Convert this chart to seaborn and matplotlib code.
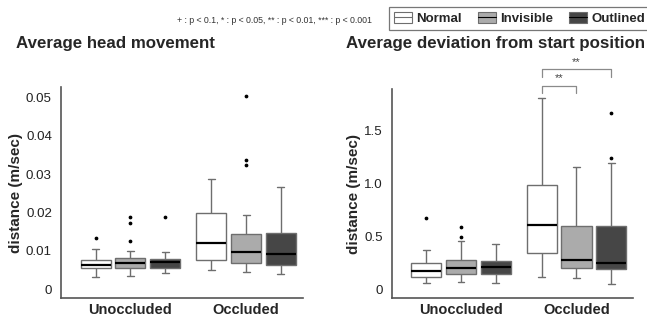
import numpy as np
import pandas as pd
import matplotlib
matplotlib.use("Agg")
import matplotlib.pyplot as plt
import seaborn as sns
from matplotlib.patches import Patch
from matplotlib.lines import Line2D

# boxes are ordered Unoccluded (Normal, Invisible, Outlined), Occluded (Normal, Invisible, Outlined)
conditions = ["Unoccluded", "Occluded"]
markers = ["Normal", "Invisible", "Outlined"]

head_lo = [0.0031, 0.0033, 0.0042, 0.0049, 0.0045, 0.0040]
head_q1 = [0.0054, 0.0056, 0.0056, 0.0077, 0.0067, 0.0064]
head_med = [0.0064, 0.0069, 0.0071, 0.0121, 0.0097, 0.0092]
head_q3 = [0.0077, 0.0080, 0.0079, 0.0199, 0.0144, 0.0146]
head_hi = [0.0105, 0.0099, 0.0097, 0.0287, 0.0193, 0.0267]
head_fliers = [[0.0134], [0.0187, 0.0173, 0.0126], [0.0187], [], [0.0503, 0.0336, 0.0325], []]

dev_lo = [0.054, 0.063, 0.060, 0.111, 0.101, 0.047]
dev_q1 = [0.111, 0.142, 0.139, 0.341, 0.196, 0.187]
dev_med = [0.170, 0.196, 0.211, 0.606, 0.275, 0.249]
dev_q3 = [0.249, 0.275, 0.265, 0.982, 0.600, 0.594]
dev_hi = [0.369, 0.457, 0.423, 1.806, 1.152, 1.196]
dev_fliers = [[0.669], [0.584, 0.495], [], [], [], [1.670, 1.238]]

head_ticks = [0, 0.01, 0.02, 0.03, 0.04, 0.05]
head_ticklabels = ["0", "0.01", "0.02", "0.03", "0.04", "0.05"]
dev_ticks = [0, 0.5, 1.0, 1.5]
dev_ticklabels = ["0", "0.5", "1.0", "1.5"]

palette = {"Normal": "white", "Invisible": "#ababab", "Outlined": "#464646"}
LINE = "#6e6e6e"


def box_frame(lo, q1, med, q3, hi, fliers):
    """Long table whose five-number summary matches the read-off values."""
    rows = []
    i = 0
    for cond in conditions:
        for m in markers:
            vals = list(np.repeat([lo[i], q1[i], med[i], q3[i], hi[i]], 10)) + fliers[i]
            rows += [(cond, m, v) for v in vals]
            i += 1
    return pd.DataFrame(rows, columns=["condition", "marker", "value"])


def draw(ax, df, ticks, ticklabels, ylim, title, title_x):
    sns.boxplot(
        data=df, x="condition", y="value", hue="marker",
        order=conditions, hue_order=markers, palette=palette,
        width=0.9, gap=0.13, whis=1.5, linecolor=LINE, linewidth=1.0,
        medianprops=dict(color="black", linewidth=1.6),
        flierprops=dict(marker="o", markersize=1.7, markerfacecolor="black",
                        markeredgecolor="black"),
        capwidths=0.06, legend=False, ax=ax,
    )
    ax.set_xlim(-0.6, 1.49)
    ax.set_ylim(*ylim)
    ax.set_yticks(ticks)
    ax.set_yticklabels(ticklabels)
    ax.set_xlabel("")
    ax.set_ylabel("distance (m/sec)", fontsize=11, fontweight="bold", labelpad=2)
    ax.tick_params(axis="y", labelsize=9.6, colors="#222222", length=3, width=0.8)
    ax.tick_params(axis="x", labelsize=10.5, length=2.5, width=0.8, pad=1,
                   color="#555555")
    for lab in ax.get_xticklabels():
        lab.set_fontweight("bold")
    sns.despine(ax=ax)
    for s in ("left", "bottom"):
        ax.spines[s].set_color("#555555")
        ax.spines[s].set_linewidth(1.2)
    ax.figure.text(title_x, 0.865, title, fontsize=12.2, fontweight="bold", va="center")


sns.set_style("white")
plt.rcParams["font.family"] = ["Liberation Sans", "DejaVu Sans"]

fig = plt.figure(figsize=(6.47, 3.2), dpi=100)
ax1 = fig.add_axes([0.0943, 0.0678, 0.3736, 0.661])
ax2 = fig.add_axes([0.6054, 0.0678, 0.373, 0.653])

draw(ax1, box_frame(head_lo, head_q1, head_med, head_q3, head_hi, head_fliers),
     head_ticks, head_ticklabels, (-0.0024, 0.0528), "Average head movement", 0.024)
draw(ax2, box_frame(dev_lo, dev_q1, dev_med, dev_q3, dev_hi, dev_fliers),
     dev_ticks, dev_ticklabels, (-0.088, 1.89), "Average deviation from start position", 0.535)

# significance brackets (Occluded: Normal vs Invisible, Normal vs Outlined)
for x1, x2, y, tip in [(0.7, 1.0, 1.925, 0.072), (0.7, 1.3, 2.083, 0.072)]:
    ax2.plot([x1, x1, x2, x2], [y - tip, y, y, y - tip], color="#8a8a8a", lw=0.9,
             clip_on=False)
    ax2.text((x1 + x2) / 2, y + 0.02, "**", ha="center", va="bottom", fontsize=8,
             color="#444444", clip_on=False)

fig.text(0.273, 0.935, "+ : p < 0.1, * : p < 0.05, ** : p < 0.01, *** : p < 0.001",
         fontsize=6.3, color="#333333", va="center")

handles = [(Patch(facecolor=palette[m], edgecolor=LINE, linewidth=0.8),
            Line2D([], [], color="black" if m != "Normal" else LINE, lw=0.8))
           for m in markers]
leg = fig.legend(handles, markers, loc="center", bbox_to_anchor=(0.803, 0.942),
                 ncol=3, frameon=True, fancybox=False, fontsize=9.5,
                 handlelength=1.4, handleheight=0.9, handletextpad=0.3,
                 columnspacing=1.2, borderpad=0.35)
leg.get_frame().set_edgecolor("#555555")
leg.get_frame().set_linewidth(0.9)
for t in leg.get_texts():
    t.set_fontweight("bold")

fig.savefig("out.png", dpi=100)
